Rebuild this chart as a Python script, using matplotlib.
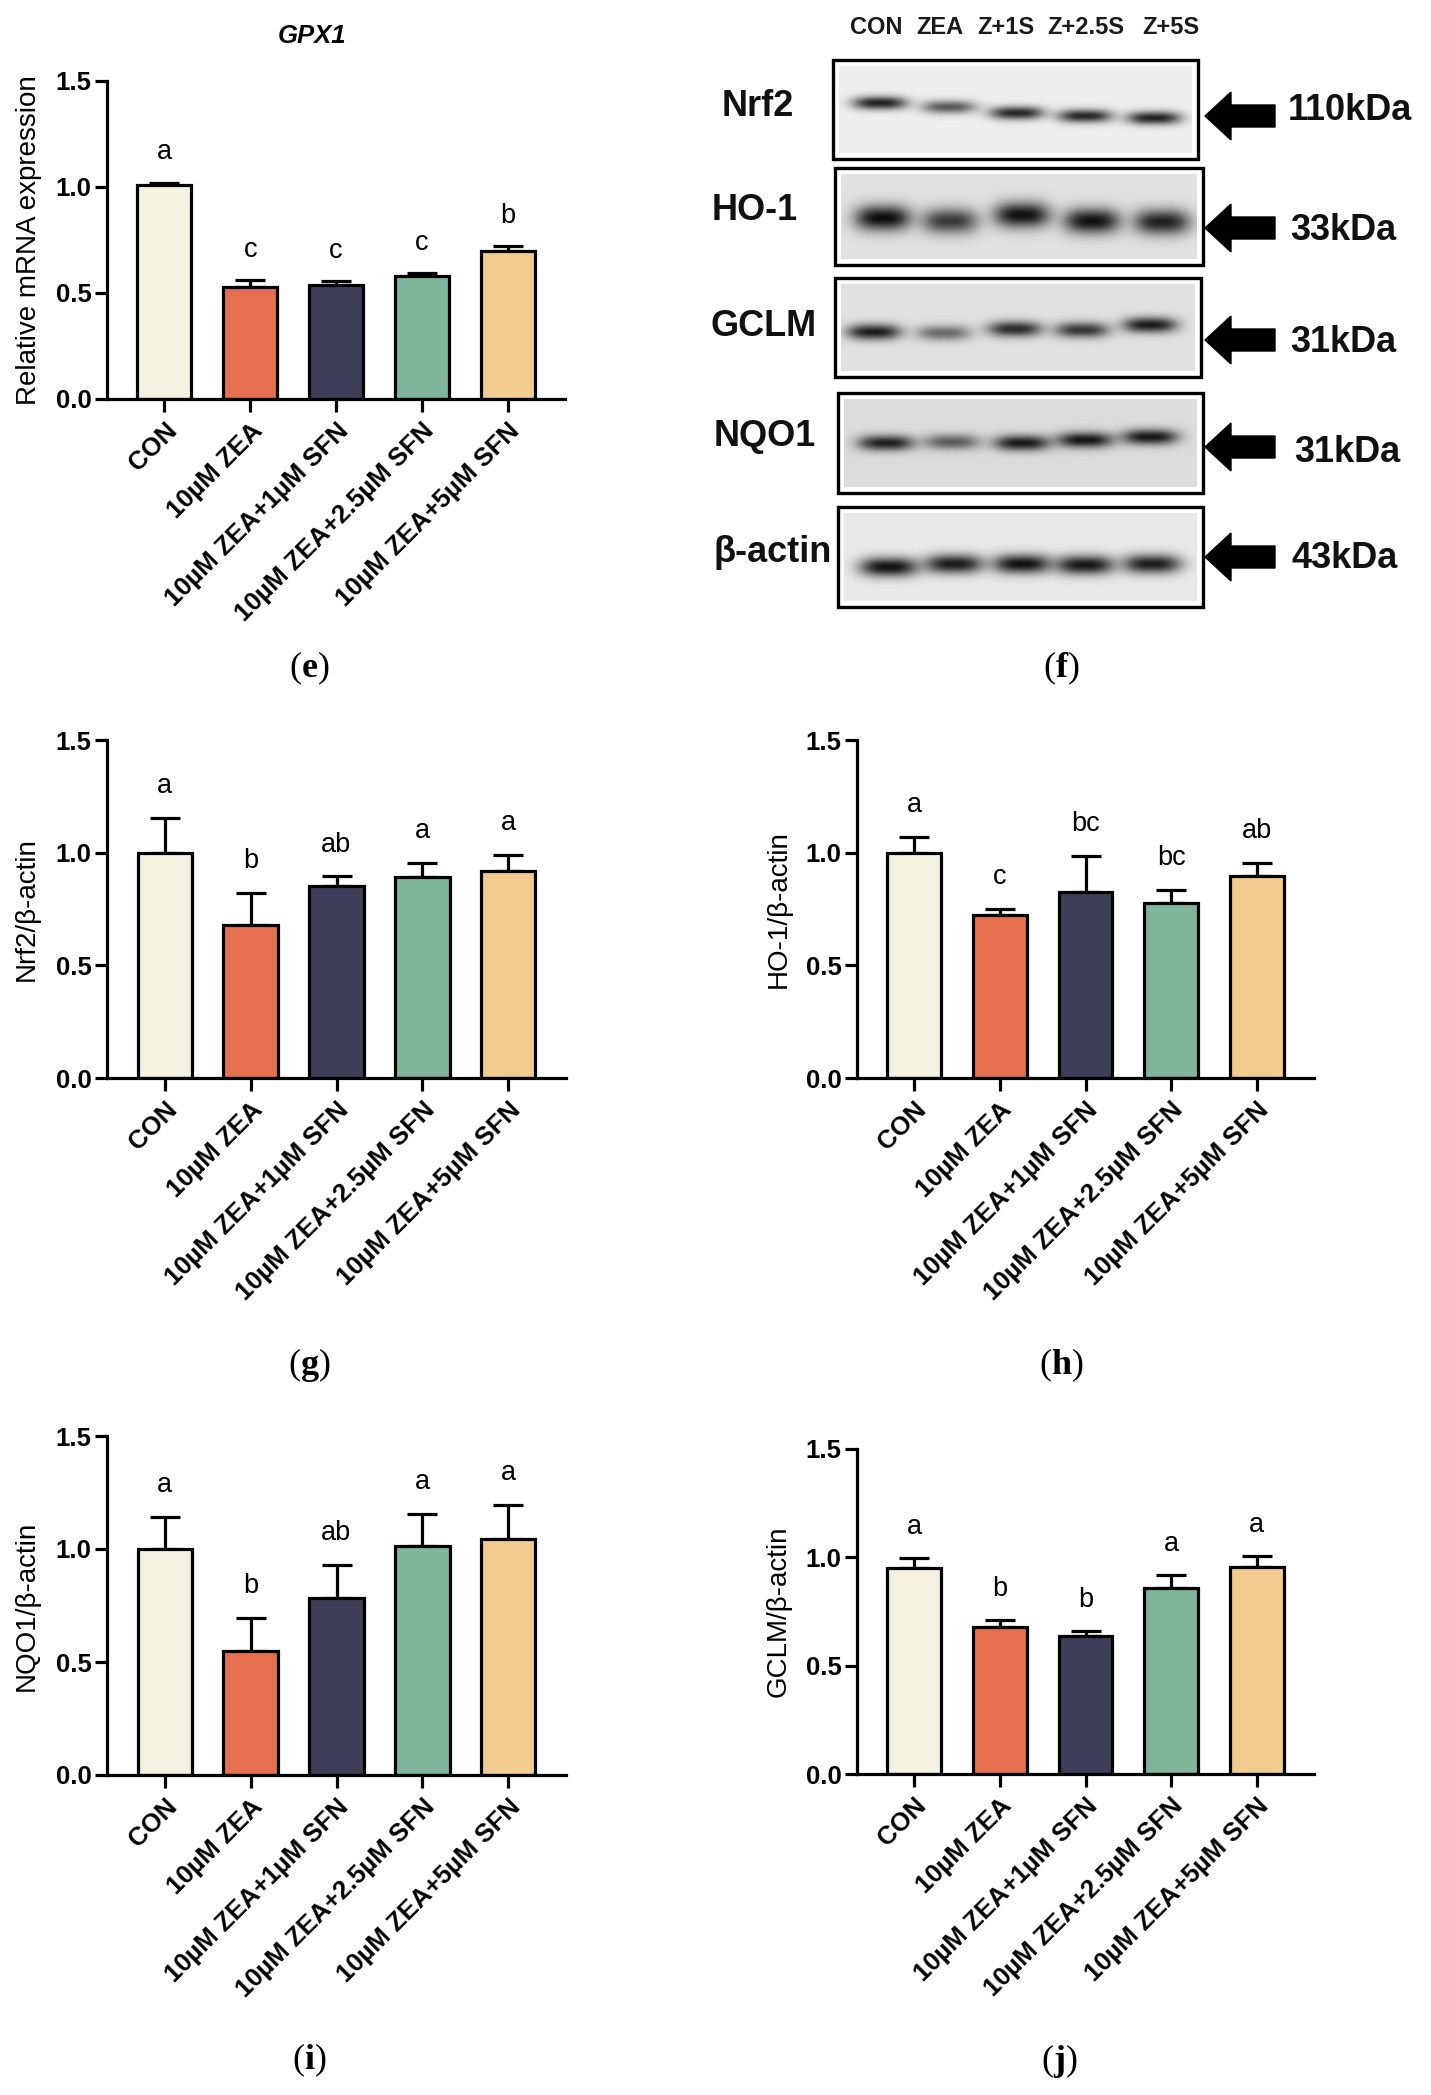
import numpy as np
import matplotlib
matplotlib.use('Agg')
import matplotlib.pyplot as plt
from matplotlib.patches import Rectangle, Polygon
from matplotlib.transforms import ScaledTranslation

plt.rcParams['font.family'] = ['Liberation Sans', 'DejaVu Sans']
plt.rcParams['mathtext.fontset'] = 'custom'
plt.rcParams['mathtext.rm'] = 'Liberation Serif'
plt.rcParams['mathtext.bf'] = 'Liberation Serif:bold'

#------------------------------------------------------------------------------
#   Data
#------------------------------------------------------------------------------
groups = ['CON', '10µM ZEA', '10µM ZEA+1µM SFN', '10µM ZEA+2.5µM SFN', '10µM ZEA+5µM SFN']
bar_colors = ['#F4F1E0', '#E4704F', '#3C3F57', '#80B49B', '#F2CB8E']

gpx1_mean = [1.01, 0.53, 0.54, 0.58, 0.70]
gpx1_sem = [0.01, 0.03, 0.015, 0.015, 0.02]
gpx1_letters = ['a', 'c', 'c', 'c', 'b']

nrf2_mean = [1.00, 0.68, 0.85, 0.89, 0.92]
nrf2_sem = [0.155, 0.14, 0.045, 0.065, 0.07]
nrf2_letters = ['a', 'b', 'ab', 'a', 'a']

ho1_mean = [1.00, 0.725, 0.825, 0.775, 0.895]
ho1_sem = [0.07, 0.025, 0.16, 0.06, 0.06]
ho1_letters = ['a', 'c', 'bc', 'bc', 'ab']

nqo1_mean = [1.00, 0.55, 0.785, 1.015, 1.045]
nqo1_sem = [0.14, 0.145, 0.145, 0.14, 0.15]
nqo1_letters = ['a', 'b', 'ab', 'a', 'a']

gclm_mean = [0.95, 0.68, 0.635, 0.86, 0.955]
gclm_sem = [0.047, 0.03, 0.027, 0.06, 0.052]
gclm_letters = ['a', 'b', 'b', 'a', 'a']

# western blot
lane_names = ['CON', 'ZEA', 'Z+1S', 'Z+2.5S', 'Z+5S']
blot_rows = ['Nrf2', 'HO-1', 'GCLM', 'NQO1', 'β-actin']
blot_kda = ['110kDa', '33kDa', '31kDa', '31kDa', '43kDa']
nrf2_band = [0.90, 0.65, 0.88, 0.88, 0.90]
ho1_band = [0.99, 0.78, 0.98, 0.97, 0.90]
gclm_band = [0.92, 0.55, 0.85, 0.80, 0.93]
nqo1_band = [0.90, 0.60, 0.93, 0.95, 0.94]
actin_band = [0.97, 0.93, 0.97, 0.95, 0.92]
band_levels = [nrf2_band, ho1_band, gclm_band, nqo1_band, actin_band]

#------------------------------------------------------------------------------
#   Figure
#------------------------------------------------------------------------------
W, H = 1431, 2095
fig = plt.figure(figsize=(W / 100, H / 100), dpi=100)

# overlay axes in pixel coordinates for blot, labels and titles
ax0 = fig.add_axes([0, 0, 1, 1])
ax0.set_xlim(0, W)
ax0.set_ylim(H, 0)
ax0.axis('off')
ax0.patch.set_alpha(0)


def bar_panel(rect, means, sems, letters, ylabel, ylab_x):
    x0, x1, ytop, ybot = rect
    ax = fig.add_axes([x0 / W, 1 - ybot / H, (x1 - x0) / W, (ybot - ytop) / H])
    xs = np.arange(len(groups))
    ax.bar(xs, means, width=0.63, color=bar_colors, edgecolor='black',
           linewidth=2.3, zorder=2)
    ax.errorbar(xs, means, yerr=[np.zeros(len(xs)), sems], fmt='none',
                ecolor='black', elinewidth=2.3, capsize=11, capthick=2.3, zorder=1)
    for x, m, s, let in zip(xs, means, sems, letters):
        ax.text(x, m + s + 0.11, let, ha='center', va='baseline', fontsize=19.5)
    ax.set_xlim(-0.67, 4.67)
    ax.set_ylim(0, 1.5)
    for sp in ['top', 'right']:
        ax.spines[sp].set_visible(False)
    for sp in ['left', 'bottom']:
        ax.spines[sp].set_linewidth(2.3)
    ax.set_yticks([0, 0.5, 1.0, 1.5])
    ax.set_yticklabels(['0.0', '0.5', '1.0', '1.5'], fontweight='bold', fontsize=18.5)
    ax.set_xticks(xs)
    labs = ax.set_xticklabels(groups, rotation=45, ha='right', va='top',
                              rotation_mode='anchor', fontweight='bold', fontsize=18.5)
    off = ScaledTranslation(4 / 100, 0, fig.dpi_scale_trans)
    for lab in labs:
        lab.set_transform(lab.get_transform() + off)
    ax.tick_params(direction='out', length=9, width=2.3)
    ax.tick_params(axis='x', pad=5)
    ax.tick_params(axis='y', pad=2)
    ax0.text(ylab_x, (ytop + ybot) / 2, ylabel, rotation=90, ha='center',
             va='center', fontsize=20)
    return ax


bar_panel((107, 565, 81, 399), gpx1_mean, gpx1_sem, gpx1_letters,
          'Relative mRNA expression', 29)
ax0.text(312, 36, 'GPX1', ha='center', va='center', fontsize=18.5,
         fontweight='bold', style='italic')
bar_panel((107, 566, 740, 1078), nrf2_mean, nrf2_sem, nrf2_letters,
          'Nrf2/β-actin', 27)
bar_panel((857, 1314, 740, 1078), ho1_mean, ho1_sem, ho1_letters,
          'HO-1/β-actin', 779)
bar_panel((107, 566, 1436, 1775), nqo1_mean, nqo1_sem, nqo1_letters,
          'NQO1/β-actin', 27)
bar_panel((857, 1314, 1449, 1774), gclm_mean, gclm_sem, gclm_letters,
          'GCLM/β-actin', 779)

#------------------------------------------------------------------------------
#   Western blot (f)
#------------------------------------------------------------------------------
blot_layout = [
    # box x0, x1, y0, y1 | lane centres | band y | thickness | bg | label xy | arrow y | kDa xy
    dict(box=(833, 1198, 60, 159), lanes=[880, 949, 1017, 1085, 1154],
         ys=[103, 107, 113, 116, 118], thick=11, hw=27, bg=0.93,
         lab=(758, 106), arr=116, kda=(1288, 111)),
    dict(box=(835, 1203, 168, 265), lanes=[883, 950, 1022, 1092, 1162],
         ys=[218, 221, 215, 221, 222], thick=21, hw=28, bg=0.88,
         lab=(755, 211), arr=228, kda=(1290, 231)),
    dict(box=(835, 1201, 278, 377), lanes=[874, 944, 1015, 1082, 1150],
         ys=[332, 333, 329, 330, 325], thick=13, hw=27, bg=0.88,
         lab=(764, 326), arr=340, kda=(1290, 342)),
    dict(box=(838, 1203, 393, 493), lanes=[886, 952, 1022, 1085, 1150],
         ys=[443, 442, 443, 440, 437], thick=13, hw=28, bg=0.86,
         lab=(765, 437), arr=447, kda=(1294, 452)),
    dict(box=(838, 1203, 507, 607), lanes=[889, 954, 1022, 1085, 1152],
         ys=[567, 564, 564, 565, 564], thick=16, hw=29, bg=0.91,
         lab=(773, 552), arr=557, kda=(1292, 558)),
]

for name, kda, levels, lay in zip(blot_rows, blot_kda, band_levels, blot_layout):
    bx0, bx1, by0, by1 = lay['box']
    m = 6
    gx = np.arange(bx0 + m, bx1 - m) + 0.5
    gy = np.arange(by0 + m, by1 - m) + 0.5
    xx, yy = np.meshgrid(gx, gy)
    img = np.full(xx.shape, lay['bg'])
    sig = lay['thick'] * 0.6
    for lx, ly, lev in zip(lay['lanes'], lay['ys'], levels):
        prof = lev * np.exp(-np.abs((xx - lx) / lay['hw']) ** 3) * np.exp(-((yy - ly) / sig) ** 2)
        img = img * (1 - 0.95 * prof)
    ax0.imshow(img, cmap='gray', vmin=0, vmax=1, interpolation='bilinear',
               extent=(bx0 + m, bx1 - m, by1 - m, by0 + m), aspect='auto', zorder=1)
    ax0.add_patch(Rectangle((bx0, by0), bx1 - bx0, by1 - by0, fill=False,
                            edgecolor='black', linewidth=2.4, zorder=2))
    ax0.text(lay['lab'][0], lay['lab'][1], name, ha='center', va='center',
             fontsize=26, fontweight='bold', color='#111111')
    ax0.text(lay['kda'][0], lay['kda'][1], kda, ha='left', va='center',
             fontsize=26, fontweight='bold', color='#111111')
    ay = lay['arr']
    tip, neck, tail = 1205, 1231, 1275
    ax0.add_patch(Polygon([(tip, ay), (neck, ay - 24), (neck, ay - 11), (tail, ay - 11),
                           (tail, ay + 11), (neck, ay + 11), (neck, ay + 24)],
                          closed=True, facecolor='black', edgecolor='black', zorder=2))

ax0.set_xlim(0, W)
ax0.set_ylim(H, 0)

for lx, ln in zip([876, 940, 1006, 1086, 1171], lane_names):
    ax0.text(lx, 28, ln, ha='center', va='center', fontsize=17, fontweight='bold',
             color='#1a1a1a')

#------------------------------------------------------------------------------
#   Panel labels
#------------------------------------------------------------------------------
for (px, py), let in zip([(309, 668), (1061, 668), (309, 1365), (1061, 1365),
                          (309, 2060), (1059, 2061)], 'efghij'):
    ax0.text(px, py, '($\\mathbf{' + let + '}$)', ha='center', va='center',
             fontsize=26, family='Liberation Serif')

fig.savefig('out.png', dpi=100)
